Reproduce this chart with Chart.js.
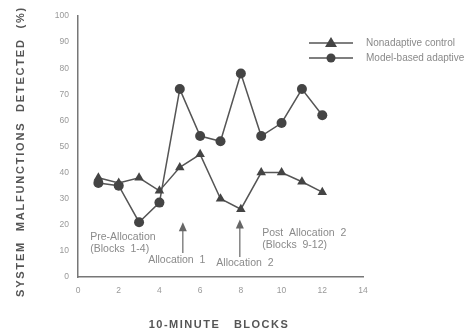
<!DOCTYPE html>
<html>
<head>
<meta charset="utf-8">
<script src="https://cdn.jsdelivr.net/npm/chart.js@4.4.1/dist/chart.umd.min.js"></script>
<style>
  html, body { margin: 0; padding: 0; background: #fff; }
  #wrap { width: 467px; height: 333px; }
</style>
</head>
<body>
<div id="wrap"><canvas id="chart" width="467" height="333"></canvas></div>
<script>
const blocks = [1, 2, 3, 4, 5, 6, 7, 8, 9, 10, 11, 12];
const nonadaptive = [38, 36, 38, 33, 42, 47, 30, 26, 40, 40, 36.5, 32.5];
const modelBased = [36, 35, 21, 28.5, 72, 54, 52, 78, 54, 59, 72, 62];
const seriesNames = ['Nonadaptive control', 'Model-based adaptive'];
const xTicks = [0, 2, 4, 6, 8, 10, 12, 14];
const yTicks = [0, 10, 20, 30, 40, 50, 60, 70, 80, 90, 100];

const lineColor = '#555';
const textColor = '#8a8a8a';
const font = '"Liberation Sans", Arial, sans-serif';

function pts(vals) {
    return blocks.map((b, i) => ({ x: b, y: vals[i] }));
}

// arrows and notes, anchored in data units
const notes = [
    { x: 0.6, y: 15.3, lines: ['Pre-Allocation', '(Blocks  1-4)'] },
    { x: 4.85, y: 6.5, lines: ['Allocation  1'], align: 'center' },
    { x: 8.2, y: 5.3, lines: ['Allocation  2'], align: 'center' },
    { x: 9.05, y: 16.9, lines: ['Post  Allocation  2', '(Blocks  9-12)'] }
];
const arrows = [
    { x: 5.15, from: 9.2, to: 21 },
    { x: 7.95, from: 7.7, to: 22 }
];

const extras = {
    id: 'extras',
    afterDraw(chart) {
        const ctx = chart.ctx;
        const xs = chart.scales.x, ys = chart.scales.y;
        ctx.save();
        // arrows
        ctx.strokeStyle = '#666';
        ctx.fillStyle = '#666';
        ctx.lineWidth = 1.2;
        arrows.forEach(a => {
            const px = xs.getPixelForValue(a.x);
            const y1 = ys.getPixelForValue(a.from);
            const y2 = ys.getPixelForValue(a.to);
            ctx.beginPath();
            ctx.moveTo(px, y1);
            ctx.lineTo(px, y2 + 6);
            ctx.stroke();
            ctx.beginPath();
            ctx.moveTo(px, y2);
            ctx.lineTo(px - 4, y2 + 9);
            ctx.lineTo(px + 4, y2 + 9);
            ctx.closePath();
            ctx.fill();
        });
        // notes
        ctx.fillStyle = textColor;
        ctx.font = '10.5px ' + font;
        ctx.textBaseline = 'middle';
        notes.forEach(n => {
            ctx.textAlign = n.align || 'left';
            const px = xs.getPixelForValue(n.x);
            const py = ys.getPixelForValue(n.y);
            n.lines.forEach((l, i) => ctx.fillText(l, px, py + i * 12));
        });
        // legend
        ctx.textAlign = 'left';
        seriesNames.forEach((name, i) => {
            const y = 43 + i * 15;
            ctx.strokeStyle = lineColor;
            ctx.lineWidth = 1.5;
            ctx.beginPath();
            ctx.moveTo(309, y);
            ctx.lineTo(353, y);
            ctx.stroke();
            ctx.fillStyle = '#444';
            ctx.beginPath();
            if (i === 0) {
                ctx.moveTo(331, y - 6);
                ctx.lineTo(337, y + 4);
                ctx.lineTo(325, y + 4);
                ctx.closePath();
            } else {
                ctx.arc(331, y, 4.5, 0, Math.PI * 2);
            }
            ctx.fill();
            ctx.fillStyle = textColor;
            ctx.font = '10px ' + font;
            ctx.fillText(name, 366, y);
        });
        // axis titles
        ctx.fillStyle = '#555';
        ctx.font = 'bold 11px ' + font;
        ctx.textAlign = 'center';
        ctx.letterSpacing = '1.5px';
        ctx.fillText('10-MINUTE   BLOCKS', 219, 325);
        ctx.translate(21, 297);
        ctx.rotate(-Math.PI / 2);
        ctx.textAlign = 'left';
        ctx.letterSpacing = '1.8px';
        ctx.fillText('SYSTEM  MALFUNCTIONS  DETECTED  (%)', 0, 0);
        ctx.restore();
    }
};

new Chart(document.getElementById('chart'), {
    type: 'line',
    data: {
        datasets: [
            {
                label: seriesNames[0],
                data: pts(nonadaptive),
                borderColor: lineColor,
                backgroundColor: '#444',
                borderWidth: 1.5,
                pointStyle: 'triangle',
                pointRadius: 5.5,
                pointBorderWidth: 0,
                tension: 0
            },
            {
                label: seriesNames[1],
                data: pts(modelBased),
                borderColor: lineColor,
                backgroundColor: '#444',
                borderWidth: 1.5,
                pointStyle: 'circle',
                pointRadius: 5,
                pointBorderWidth: 0,
                tension: 0
            }
        ]
    },
    options: {
        responsive: false,
        animation: false,
        layout: { padding: { left: 0, right: 104, top: 16, bottom: 0 } },
        plugins: { legend: { display: false }, tooltip: { enabled: false } },
        scales: {
            x: {
                type: 'linear',
                min: 0,
                max: 14,
                afterBuildTicks: s => { s.ticks = xTicks.map(v => ({ value: v })); },
                afterFit: s => { s.height = 56; },
                grid: { display: false, drawTicks: true, tickLength: 4, color: '#777' },
                border: { color: '#777', width: 1.5 },
                ticks: { color: '#999', font: { size: 8.5, family: font }, padding: 5 }
            },
            y: {
                min: 0,
                max: 100,
                afterBuildTicks: s => { s.ticks = yTicks.map(v => ({ value: v })); },
                afterFit: s => { s.width = 78; },
                grid: { display: false, drawTicks: true, tickLength: 4, color: '#777' },
                border: { color: '#777', width: 1.5 },
                ticks: { color: '#999', font: { size: 8.5, family: font }, padding: 5 }
            }
        }
    },
    plugins: [extras]
});
</script>
</body>
</html>
